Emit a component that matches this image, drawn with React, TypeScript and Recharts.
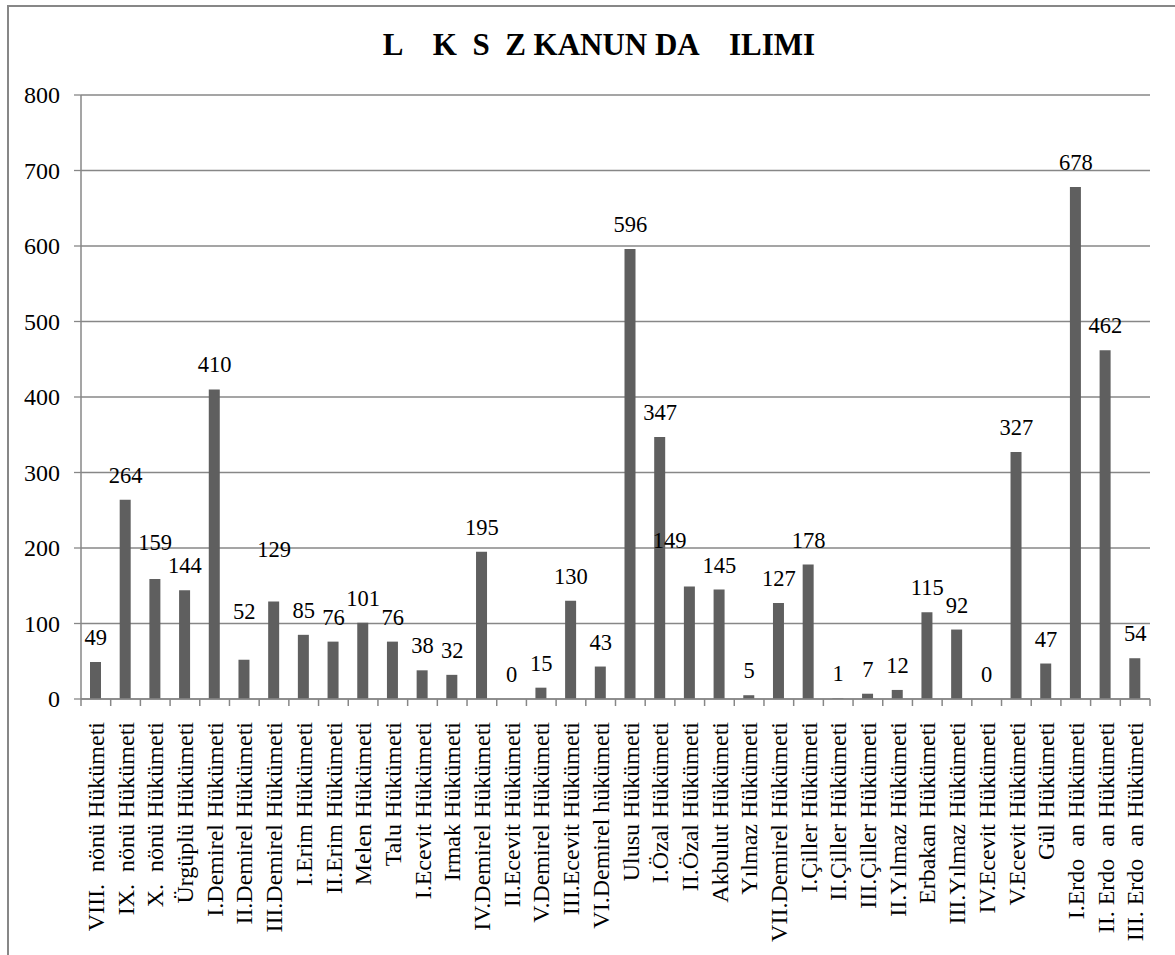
import React from 'react';
import { ComposedChart, Bar, Line, XAxis, YAxis, CartesianGrid, LabelList } from 'recharts';

const categories: string[] = [
  'VIII.  nönü Hükümeti',
  'IX.  nönü Hükümeti',
  'X.  nönü Hükümeti',
  'Ürgüplü Hükümeti',
  'I.Demirel Hükümeti',
  'II.Demirel Hükümeti',
  'III.Demirel Hükümeti',
  'I.Erim Hükümeti',
  'II.Erim Hükümeti',
  'Melen Hükümeti',
  'Talu Hükümeti',
  'I.Ecevit Hükümeti',
  'Irmak Hükümeti',
  'IV.Demirel Hükümeti',
  'II.Ecevit Hükümeti',
  'V.Demirel Hükümeti',
  'III.Ecevit Hükümeti',
  'VI.Demirel hükümeti',
  'Ulusu Hükümeti',
  'I.Özal Hükümeti',
  'II.Özal Hükümeti',
  'Akbulut Hükümeti',
  'Yılmaz Hükümeti',
  'VII.Demirel Hükümeti',
  'I.Çiller Hükümeti',
  'II.Çiller Hükümeti',
  'III.Çiller Hükümeti',
  'II.Yılmaz Hükümeti',
  'Erbakan Hükümeti',
  'III.Yılmaz Hükümeti',
  'IV.Ecevit Hükümeti',
  'V.Ecevit Hükümeti',
  'Gül Hükümeti',
  'I.Erdo  an Hükümeti',
  'II. Erdo  an Hükümeti',
  'III. Erdo  an Hükümeti',
];

const lawCounts: number[] = [
  49, 264, 159, 144, 410, 52, 129, 85, 76, 101, 76, 38, 32, 195, 0, 15, 130, 43,
  596, 347, 149, 145, 5, 127, 178, 1, 7, 12, 115, 92, 0, 327, 47, 678, 462, 54,
];

const yTicks: number[] = [0, 100, 200, 300, 400, 500, 600, 700, 800];

const titleText = 'L    K  S  Z KANUN DA    ILIMI';

const data = categories.map((name, i) => ({ name, value: lawCounts[i] }));

// manual label nudges (pixels) for labels that the original moved
const labelNudge: Record<number, { dx: number; dy: number }> = {
  2: { dx: 0, dy: -12 },
  5: { dx: 0, dy: -24 },
  6: { dx: 0, dy: -28 },
  20: { dx: -20, dy: -22 },
};

const W = 1175;
const H = 955;
const MARGIN = { top: 95, right: 25, left: 0, bottom: 0 };
const Y_AXIS_W = 81;
const X_AXIS_H = 256;
const BAND = (W - MARGIN.right - MARGIN.left - Y_AXIS_W) / categories.length;
const FONT = '"Liberation Serif", "Times New Roman", Times, serif';
const GRAY = '#878787';

function XTick(props: any) {
  const { x, y, payload, index } = props;
  const half = BAND / 2;
  return (
    <g>
      <line x1={x - half} x2={x - half} y1={y} y2={y + 7} stroke={GRAY} strokeWidth={1.5} />
      {index === categories.length - 1 && (
        <line x1={x + half} x2={x + half} y1={y} y2={y + 7} stroke={GRAY} strokeWidth={1.5} />
      )}
      <text
        transform={`translate(${x},${y + 23}) rotate(-90)`}
        textAnchor="end"
        dy="0.34em"
        fontSize={24}
        fontFamily={FONT}
        fill="#000"
        style={{ whiteSpace: 'pre', fontFamily: FONT }}
      >
        {payload.value}
      </text>
    </g>
  );
}

function YTick(props: any) {
  const { x, y, payload } = props;
  return (
    <text
      x={x}
      y={y}
      dy="0.34em"
      textAnchor="end"
      fontSize={24}
      fontFamily={FONT}
      fill="#000"
      style={{ fontFamily: FONT }}
    >
      {payload.value}
    </text>
  );
}

function ValueLabel(props: any) {
  const { x, y, value, index } = props;
  const n = labelNudge[index] || { dx: 0, dy: 0 };
  return (
    <text
      x={x + n.dx}
      y={y - 17 + n.dy}
      textAnchor="middle"
      fontSize={22.5}
      fontFamily={FONT}
      fill="#000"
      style={{ fontFamily: FONT }}
    >
      {value}
    </text>
  );
}

export default function App() {
  return (
    <div
      style={{
        position: 'absolute',
        left: 0,
        top: 0,
        width: W,
        height: H,
        overflow: 'hidden',
        background: '#fff',
        fontFamily: FONT,
      }}
    >
      <div
        style={{
          position: 'absolute',
          left: 7,
          top: 5,
          width: W + 20,
          height: H + 20,
          borderLeft: `2px solid ${GRAY}`,
          borderTop: `2px solid ${GRAY}`,
        }}
      />
      <svg width={W} height={80} style={{ position: 'absolute', left: 0, top: 0 }}>
        <text
          x={599}
          y={55}
          textAnchor="middle"
          fontWeight="bold"
          fontSize={31}
          fontFamily={FONT}
          fill="#000"
          style={{ whiteSpace: 'pre', fontFamily: FONT }}
        >
          {titleText}
        </text>
      </svg>
      <div style={{ position: 'absolute', left: 0, top: 0 }}>
        <ComposedChart width={W} height={H} data={data} margin={MARGIN}>
          <CartesianGrid vertical={false} stroke={GRAY} strokeWidth={1.3} />
          <XAxis
            dataKey="name"
            interval={0}
            height={X_AXIS_H}
            axisLine={{ stroke: GRAY, strokeWidth: 1.5 }}
            tickLine={false}
            tickSize={0}
            tickMargin={0}
            tick={<XTick />}
          />
          <YAxis
            width={Y_AXIS_W}
            domain={[0, 800]}
            ticks={yTicks}
            interval={0}
            axisLine={{ stroke: GRAY, strokeWidth: 1.5 }}
            tickLine={{ stroke: GRAY, strokeWidth: 1.3 }}
            tickSize={7}
            tickMargin={14}
            tick={<YTick />}
          />
          <Bar dataKey="value" fill="#5f5f5f" barSize={11} isAnimationActive={false} />
          <Line
            dataKey="value"
            stroke="none"
            dot={false}
            activeDot={false}
            legendType="none"
            isAnimationActive={false}
          >
            <LabelList dataKey="value" content={<ValueLabel />} />
          </Line>
        </ComposedChart>
      </div>
    </div>
  );
}
